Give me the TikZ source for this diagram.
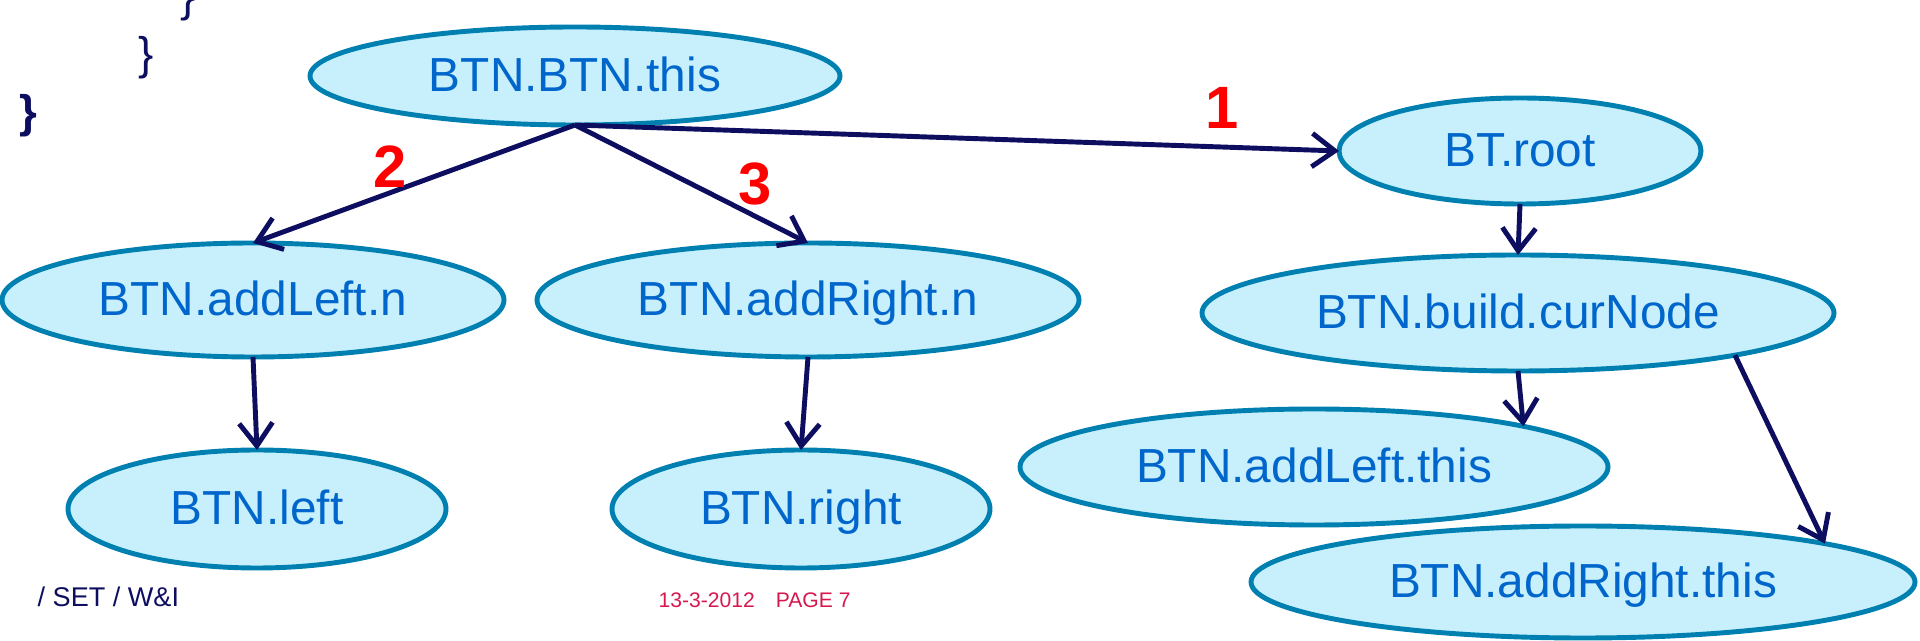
\documentclass[tikz,border=0pt]{standalone}
\usepackage{fontspec}
\setmainfont{Liberation Sans}
\usetikzlibrary{shapes.geometric, arrows.meta}

\definecolor{varfill}{RGB}{200,240,252}
\definecolor{varline}{RGB}{0,128,176}
\definecolor{vartext}{RGB}{0,102,204}
\definecolor{ptrcol}{RGB}{14,14,96}
\definecolor{footred}{RGB}{214,24,79}

\begin{document}
\begin{tikzpicture}[
    var/.style={ellipse, draw=varline, fill=varfill, line width=1.4pt, inner sep=0pt, outer sep=0pt,
        text=vartext, font=\fontsize{13.6}{16}\selectfont, text height=0.42cm, text depth=0.1cm},
    ptr/.style={draw=ptrcol, line width=1.4pt, -{Straight Barb[length=6.5pt, width=9.5pt]}},
    num/.style={text=red, font=\fontsize{17}{20}\selectfont\bfseries},
    brace/.style={text=ptrcol, font=\fontsize{13}{15}\selectfont}
]
        \useasboundingbox (0, 0) rectangle (19.2, 6.41);

        % leftover code on the slide
        \node[brace] (br1) at (1.88, 6.41) {\}};
        \node[brace] (br2) at (1.46, 5.83) {\}};
        \node[brace, font=\fontsize{13}{15}\selectfont\bfseries] (br3) at (0.28, 5.25) {\}};

        \node[var, minimum width=5.30cm, minimum height=0.98cm] (top) at (5.75, 5.65) {BTN.BTN.this};
        \node[var, minimum width=3.62cm, minimum height=1.06cm] (root) at (15.20, 4.90) {BT.root};
        \node[var, minimum width=5.02cm, minimum height=1.14cm] (addLn) at (2.53, 3.41) {BTN.addLeft.n};
        \node[var, minimum width=5.42cm, minimum height=1.14cm] (addRn) at (8.08, 3.41) {BTN.addRight.n};
        \node[var, minimum width=6.32cm, minimum height=1.16cm] (cur) at (15.18, 3.28) {BTN.build.curNode};
        \node[var, minimum width=3.78cm, minimum height=1.18cm] (left) at (2.57, 1.32) {BTN.left};
        \node[var, minimum width=3.78cm, minimum height=1.18cm] (right) at (8.01, 1.32) {BTN.right};
        \node[var, minimum width=5.88cm, minimum height=1.16cm] (addLt) at (13.14, 1.74) {BTN.addLeft.this};
        \node[var, minimum width=6.64cm, minimum height=1.12cm] (addRt) at (15.83, 0.59) {BTN.addRight.this};

        \draw[ptr] (top.south) -- (root.west);
        \draw[ptr] (top.south) -- (addLn.north);
        \draw[ptr] (top.south) -- (addRn.north);
        \draw[ptr] (addLn.south) -- (left.north);
        \draw[ptr] (addRn.south) -- (right.north);
        \draw[ptr] (root.south) -- (cur.north);
        \draw[ptr] (cur.south) -- (addLt.11);
        \draw[ptr] (cur.-11) -- (addRt.9.5);

        \node[num] (one) at (12.22, 5.33) {1};
        \node[num] (two) at (3.90, 4.74) {2};
        \node[num] (three) at (7.55, 4.57) {3};

        % footer
        \node[anchor=west, inner sep=0pt, text=ptrcol, font=\fontsize{7.7}{9}\selectfont] (dept) at (0.37, 0.44) {/ SET / W\&I};
        \node[anchor=west, inner sep=0pt, text=footred, font=\fontsize{6}{7}\selectfont] (page) at (6.58, 0.41) {13-3-2012\quad PAGE 7};
\end{tikzpicture}
\end{document}
